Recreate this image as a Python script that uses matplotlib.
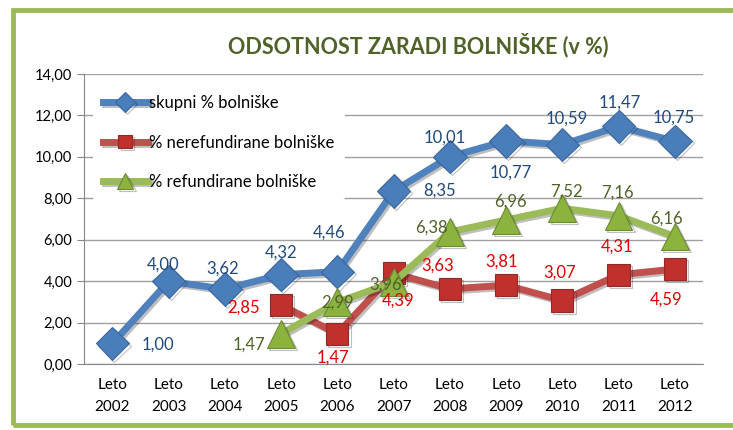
import numpy as np
import matplotlib
matplotlib.use("Agg")
import matplotlib.pyplot as plt
import matplotlib.patheffects as pe
from matplotlib.patches import Rectangle

plt.rcParams['font.family'] = ['Lato', 'DejaVu Sans']

years = ["Leto\n2002", "Leto\n2003", "Leto\n2004", "Leto\n2005", "Leto\n2006", "Leto\n2007",
         "Leto\n2008", "Leto\n2009", "Leto\n2010", "Leto\n2011", "Leto\n2012"]
skupni = [1.00, 4.00, 3.62, 4.32, 4.46, 8.35, 10.01, 10.77, 10.59, 11.47, 10.75]
nerefund = [np.nan, np.nan, np.nan, 2.85, 1.47, 4.39, 3.63, 3.81, 3.07, 4.31, 4.59]
refund = [np.nan, np.nan, np.nan, 1.47, 2.99, 3.96, 6.38, 6.96, 7.52, 7.16, 6.16]

# label offsets (points) per point, roughly as in the original
off_blue = [(33, -1), (-4, 12), (-2, 15), (0, 16), (-6, 28), (33, 0), (-4, 14), (3, -23), (3, 19), (1, 17), (-1, 17)]
off_red = [None, None, None, (-27, -2), (-3, -17), (3, -20), (-9, 17), (-3, 17), (-2, 20), (-1, 20), (-6, -22)]
off_green = [None, None, None, (-23, -8), (0, 0), (-6, -2), (-13, 3), (3, 13), (3, 12), (-1, 17), (-6, 13)]

fig = plt.figure(figsize=(7.33, 4.30), dpi=100)
fig.patches.append(Rectangle((0.018, 0.012), 0.985, 0.965, transform=fig.transFigure,
                             fill=False, edgecolor='#9BBB59', linewidth=3.5))
ax = fig.add_axes([0.115, 0.153, 0.844, 0.675])

x = np.arange(len(years))
shadow = [pe.SimpleLineShadow(offset=(1.5, -1.5), alpha=0.25), pe.Normal()]
ax.plot(x, skupni, color='#4F81BD', lw=5, marker='D', ms=17, mfc='#4A7EBB', mec='#3A67A0',
        mew=0.8, label='skupni % bolniške', path_effects=shadow, zorder=3)
ax.plot(x, nerefund, color='#C0504D', lw=5, marker='s', ms=16, mfc='#C0302D', mec='#8E2A27',
        mew=0.8, label='% nerefundirane bolniške', path_effects=shadow, zorder=4)
ax.plot(x, refund, color='#9BBB59', lw=5, marker='^', ms=20, mfc='#8DB33F', mec='#6A8A34',
        mew=0.8, label='% refundirane bolniške', path_effects=shadow, zorder=5)

def labels(vals, offs, color):
    for i, (v, o) in enumerate(zip(vals, offs)):
        if o is None or np.isnan(v):
            continue
        ax.annotate(f"{v:.2f}".replace('.', ','), (i, v), xytext=o, textcoords='offset points',
                    ha='center', va='center', fontsize=12, color=color, zorder=6)

labels(skupni, off_blue, '#1F497D')
labels(nerefund, off_red, '#E00000')
labels(refund, off_green, '#4F6228')

ax.set_xlim(-0.5, len(years) - 0.5)
ax.set_ylim(0, 14)
ax.set_yticks(np.arange(0, 15, 2))
ax.set_yticklabels([f"{t:.2f}".replace('.', ',') for t in np.arange(0, 15, 2)])
ax.set_xticks(x)
ax.set_xticklabels(years, fontsize=11, linespacing=1.75)
ax.tick_params(axis='y', labelsize=10.5, length=5, color='#868686')
ax.tick_params(axis='x', length=0, pad=10)
ax.yaxis.grid(True, color='#A0A0A0', lw=1)
ax.set_axisbelow(True)
for s in ['top', 'right']:
    ax.spines[s].set_visible(False)
ax.spines['left'].set_color('#868686')
ax.spines['bottom'].set_color('#868686')

leg = ax.legend(loc='upper left', bbox_to_anchor=(0.0, 0.99), frameon=True, fontsize=12,
                handlelength=2.7, handletextpad=0.1, labelspacing=1.4, borderpad=0.6,
                markerscale=0.6)
leg.get_frame().set_facecolor('white')
leg.get_frame().set_edgecolor('none')
leg.get_frame().set_alpha(1)
leg.set_zorder(2.5)

fig.text(0.57, 0.895, "ODSOTNOST ZARADI BOLNIŠKE (v %)", ha='center', va='center',
         fontsize=15.5, fontweight='bold', color='#4F6228')

fig.savefig("out.png", dpi=100)
